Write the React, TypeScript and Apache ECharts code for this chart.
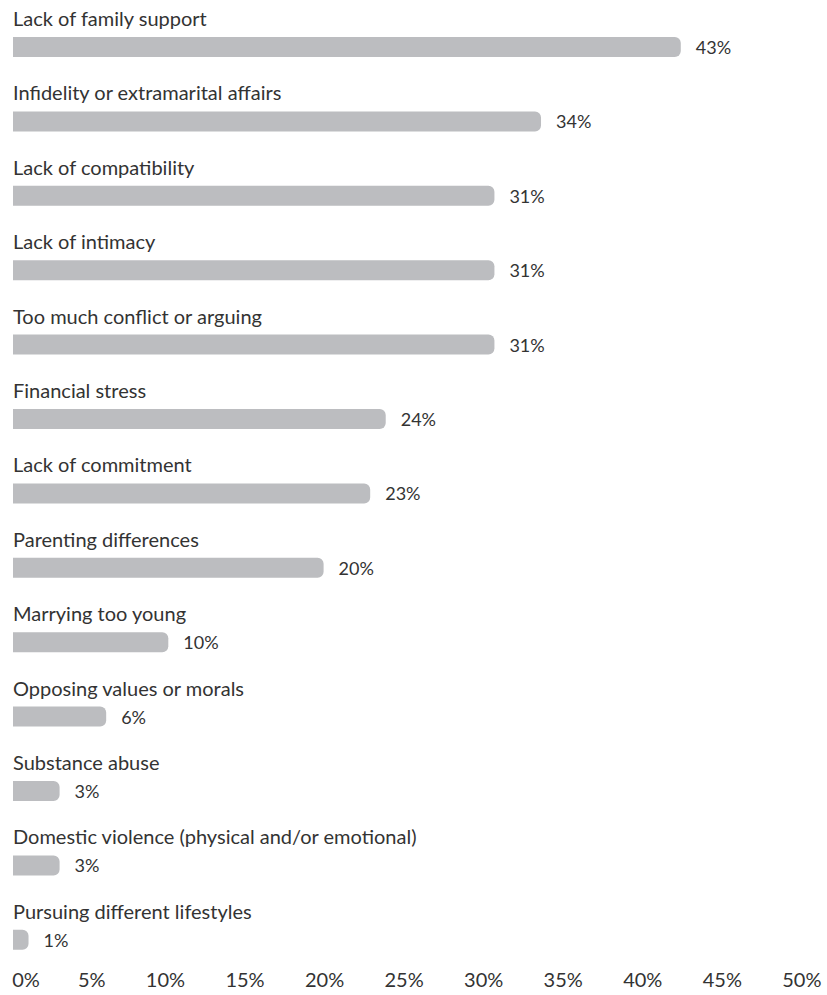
import React, { useEffect, useRef } from "react";
import * as echarts from "echarts";

const categories = [
  "Lack of family support",
  "Infidelity or extramarital affairs",
  "Lack of compatibility",
  "Lack of intimacy",
  "Too much conflict or arguing",
  "Financial stress",
  "Lack of commitment",
  "Parenting differences",
  "Marrying too young",
  "Opposing values or morals",
  "Substance abuse",
  "Domestic violence (physical and/or emotional)",
  "Pursuing different lifestyles",
];
const values = [43, 34, 31, 31, 31, 24, 23, 20, 10, 6, 3, 3, 1];
const axisMin = 0;
const axisMax = 50;
const axisStep = 5;

const FONT = "Lato";
const TEXT = "#333333";
const BAR = "#bcbdc0";

export default function App() {
  const ref = useRef<HTMLDivElement>(null);
  useEffect(() => {
    if (!ref.current) return;
    const chart = echarts.init(ref.current, null, { renderer: "svg" });
    chart.setOption({
      animation: false,
      grid: [
        { left: 13, right: 37.5, top: 9.8, bottom: 18, containLabel: false },
        { left: 26, right: 5.5, top: 955, bottom: 30, containLabel: false },
      ],
      xAxis: [
        { type: "value", gridIndex: 0, min: axisMin, max: axisMax, show: false },
        {
          type: "value",
          gridIndex: 1,
          min: axisMin,
          max: axisMax,
          interval: axisStep,
          axisLine: { show: false },
          axisTick: { show: false },
          splitLine: { show: false },
          axisLabel: {
            formatter: "{value}%",
            fontFamily: FONT,
            fontWeight: 400,
            fontSize: 20,
            color: TEXT,
            margin: 4,
            align: "right",
            alignMinLabel: "center",
          },
        },
      ],
      yAxis: [
        { type: "category", gridIndex: 0, data: categories, inverse: true, show: false },
        { type: "value", gridIndex: 1, min: 0, max: 1, show: false },
      ],
      series: [
        {
          type: "bar",
          xAxisIndex: 0,
          yAxisIndex: 0,
          data: values,
          barWidth: 20,
          silent: true,
          itemStyle: { color: BAR, borderRadius: [0, 6, 6, 0] },
          label: {
            show: true,
            position: "right",
            distance: 15,
            formatter: "{c}%",
            fontFamily: FONT,
            fontWeight: 400,
            fontSize: 18,
            color: TEXT,
          },
        },
        {
          type: "bar",
          xAxisIndex: 0,
          yAxisIndex: 0,
          data: values,
          barWidth: 20,
          barGap: "-100%",
          silent: true,
          itemStyle: { color: "rgba(0,0,0,0)" },
          label: {
            show: true,
            position: [0, -19],
            align: "left",
            verticalAlign: "middle",
            formatter: "{b}",
            fontFamily: FONT,
            fontWeight: 400,
            fontSize: 20,
            color: TEXT,
          },
        },
      ],
    });
    return () => chart.dispose();
  }, []);
  return (
    <div
      ref={ref}
      style={{ position: "fixed", left: 0, top: 0, width: 827, height: 995, background: "#fff" }}
    />
  );
}
